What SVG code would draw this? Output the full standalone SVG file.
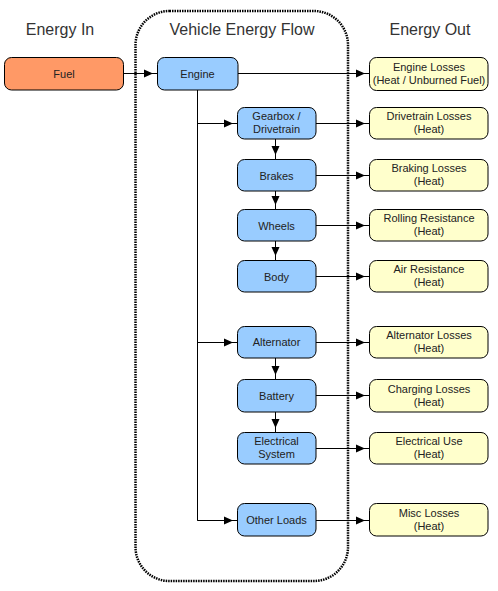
<svg xmlns="http://www.w3.org/2000/svg" width="498" height="591" viewBox="0 0 498 591">
<style>
.t{font-family:"Liberation Sans",Arial,sans-serif;font-size:11px;fill:#222;text-anchor:middle}
.h{font-family:"Liberation Sans",Arial,sans-serif;font-size:16px;fill:#333;text-anchor:middle}
.b{fill:#99CCFF;stroke:#000;stroke-width:1}
.y{fill:#FFFFCC;stroke:#000;stroke-width:1}
.o{fill:#FF9966;stroke:#000;stroke-width:1}
.c{fill:none;stroke:#000;stroke-width:1}
</style>
<defs>
<marker id="a" markerUnits="userSpaceOnUse" markerWidth="14" markerHeight="10" refX="13" refY="4.5" orient="auto">
<path d="M0,0.5 L9,4.5 L0,8.5 z" fill="#000"/>
<path d="M9,4.5 L13,4.5" stroke="#000" stroke-width="1"/>
</marker>
</defs>
<rect width="498" height="591" fill="#fff"/>
<rect id="container" x="135.5" y="11" width="212.5" height="570" rx="34" ry="34" fill="none" stroke="#000" stroke-width="2.5" stroke-dasharray="1.5,1"/>
<text class="h" x="60" y="35">Energy In</text>
<text class="h" x="242" y="35">Vehicle Energy Flow</text>
<text class="h" x="430" y="35">Energy Out</text>
<g id="connectors">
<path class="c" d="M123,73.5 H157" marker-end="url(#a)"/>
<path class="c" d="M238,73.5 H369" marker-end="url(#a)"/>
<path class="c" d="M197.5,90 V520.5 H237"/>
<path class="c" d="M197.5,123.5 H237" marker-end="url(#a)"/>
<path class="c" d="M197.5,342.5 H237" marker-end="url(#a)"/>
<path class="c" d="M197.5,520.5 H237" marker-end="url(#a)"/>
<path class="c" d="M316,123.5 H369" marker-end="url(#a)"/>
<path class="c" d="M316,175.5 H369" marker-end="url(#a)"/>
<path class="c" d="M316,225.5 H369" marker-end="url(#a)"/>
<path class="c" d="M316,276.5 H369" marker-end="url(#a)"/>
<path class="c" d="M316,342.5 H369" marker-end="url(#a)"/>
<path class="c" d="M316,395.5 H369" marker-end="url(#a)"/>
<path class="c" d="M316,448.5 H369" marker-end="url(#a)"/>
<path class="c" d="M316,520.5 H369" marker-end="url(#a)"/>
<path class="c" d="M275.5,139 V159" marker-end="url(#a)"/>
<path class="c" d="M275.5,191 V209" marker-end="url(#a)"/>
<path class="c" d="M275.5,241 V260" marker-end="url(#a)"/>
<path class="c" d="M275.5,358 V379" marker-end="url(#a)"/>
<path class="c" d="M275.5,412 V432" marker-end="url(#a)"/>
</g>
<g id="fuel"><rect class="o" x="4.5" y="57.5" width="119" height="32.5" rx="7"/><text class="t" x="64" y="77.5">Fuel</text></g>
<g id="engine"><rect class="b" x="157.5" y="57.5" width="80.5" height="32.5" rx="7"/><text class="t" x="197.5" y="77.5">Engine</text></g>
<g id="gearbox"><rect class="b" x="237.5" y="107.5" width="78.5" height="31.5" rx="7"/><text class="t" x="276.5" y="120">Gearbox /</text><text class="t" x="276.5" y="133">Drivetrain</text></g>
<g id="brakes"><rect class="b" x="237.5" y="159.5" width="78.5" height="31.5" rx="7"/><text class="t" x="276.5" y="179.5">Brakes</text></g>
<g id="wheels"><rect class="b" x="237.5" y="209.5" width="78.5" height="31.5" rx="7"/><text class="t" x="276.5" y="229.5">Wheels</text></g>
<g id="body"><rect class="b" x="237.5" y="260.5" width="78.5" height="31.5" rx="7"/><text class="t" x="276.5" y="280.5">Body</text></g>
<g id="alternator"><rect class="b" x="237.5" y="326.5" width="78.5" height="31.5" rx="7"/><text class="t" x="276.5" y="345.5">Alternator</text></g>
<g id="battery"><rect class="b" x="237.5" y="379.5" width="78.5" height="32.5" rx="7"/><text class="t" x="276.5" y="399.5">Battery</text></g>
<g id="electrical"><rect class="b" x="237.5" y="432.5" width="78.5" height="31.5" rx="7"/><text class="t" x="276.5" y="445">Electrical</text><text class="t" x="276.5" y="458">System</text></g>
<g id="other"><rect class="b" x="237.5" y="503.5" width="78.5" height="32.5" rx="7"/><text class="t" x="276.5" y="523.5">Other Loads</text></g>
<g id="engine-losses"><rect class="y" x="369.5" y="57.5" width="118.5" height="33" rx="7"/><text class="t" x="429" y="70.5">Engine Losses</text><text class="t" x="429" y="83.5">(Heat / Unburned Fuel)</text></g>
<g id="drivetrain-losses"><rect class="y" x="369.5" y="107.5" width="118.5" height="31.5" rx="7"/><text class="t" x="429" y="120">Drivetrain Losses</text><text class="t" x="429" y="133">(Heat)</text></g>
<g id="braking-losses"><rect class="y" x="369.5" y="159.5" width="118.5" height="31.5" rx="7"/><text class="t" x="429" y="172">Braking Losses</text><text class="t" x="429" y="185">(Heat)</text></g>
<g id="rolling"><rect class="y" x="369.5" y="209.5" width="118.5" height="31.5" rx="7"/><text class="t" x="429" y="222">Rolling Resistance</text><text class="t" x="429" y="235">(Heat)</text></g>
<g id="air"><rect class="y" x="369.5" y="260.5" width="118.5" height="31.5" rx="7"/><text class="t" x="429" y="273">Air Resistance</text><text class="t" x="429" y="286">(Heat)</text></g>
<g id="alternator-losses"><rect class="y" x="369.5" y="326.5" width="118.5" height="31.5" rx="7"/><text class="t" x="429" y="339">Alternator Losses</text><text class="t" x="429" y="352">(Heat)</text></g>
<g id="charging"><rect class="y" x="369.5" y="379.5" width="118.5" height="32.5" rx="7"/><text class="t" x="429" y="392.5">Charging Losses</text><text class="t" x="429" y="405.5">(Heat)</text></g>
<g id="electrical-use"><rect class="y" x="369.5" y="432.5" width="118.5" height="31.5" rx="7"/><text class="t" x="429" y="445">Electrical Use</text><text class="t" x="429" y="458">(Heat)</text></g>
<g id="misc"><rect class="y" x="369.5" y="503.5" width="118.5" height="32.5" rx="7"/><text class="t" x="429" y="516.5">Misc Losses</text><text class="t" x="429" y="529.5">(Heat)</text></g>
</svg>
